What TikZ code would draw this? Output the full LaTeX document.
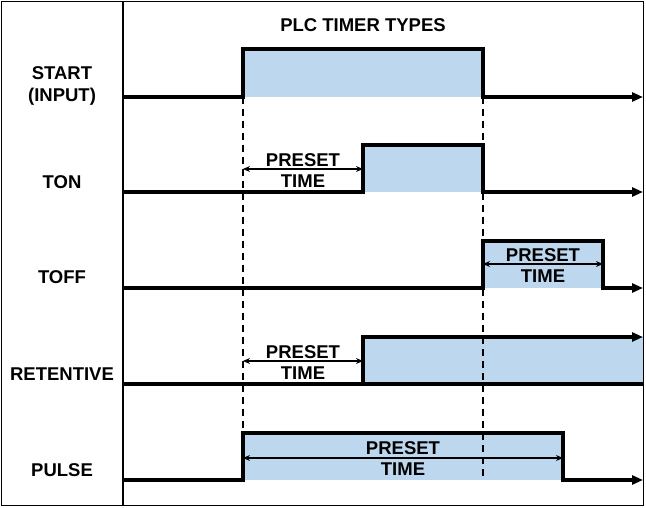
\documentclass[tikz,border=0pt]{standalone}
\usepackage{fontspec}
\setmainfont{Liberation Sans}
\usetikzlibrary{arrows.meta}
\definecolor{pulsefill}{RGB}{189,215,238}
\tikzset{
  sig/.style={line width=3.3pt, line join=miter},
  sigend/.style={sig, -{Triangle[length=11pt,width=9pt]}},
  guide/.style={line width=1.5pt, dash pattern=on 7pt off 5pt},
  preset/.style={line width=1.4pt, {Stealth[length=7pt,width=6pt]}-{Stealth[length=7pt,width=6pt]}},
  lbl/.style={font=\fontsize{18.5}{22}\selectfont\bfseries, align=center, inner sep=0pt},
  ptxt/.style={font=\fontsize{18.5}{21}\selectfont\bfseries, align=center, inner sep=0pt},
  frame/.style={line width=1.4pt},
}
\begin{document}
\begin{tikzpicture}[x=1pt,y=-1pt]
\useasboundingbox (0,0) rectangle (646,508);
% fills
\fill[pulsefill] (243,49) rectangle (483,97);
\fill[pulsefill] (363,145) rectangle (483,192);
\fill[pulsefill] (483,241) rectangle (603,288);
\fill[pulsefill] (363,337) rectangle (643,384);
\fill[pulsefill] (243,433) rectangle (563,480);
% frame
\draw[frame] (1.5,1.5) rectangle (643.5,505.5);
\draw[frame] (123,1.5) -- (123,505.5);
% guide coordinates
\coordinate (g1t) at (243,97);
\coordinate (g1b) at (243,480);
\coordinate (g2t) at (483,97);
\coordinate (g2b) at (483,480);
\draw[guide] (g1t) -- (g1b);
\draw[guide] (g2t) -- (g2b);
% START
\draw[sigend] (123,97) -- (243,97) -- (243,49) -- (483,49) -- (483,97) -- (643,97);
% TON
\draw[sigend] (123,192) -- (363,192) -- (363,145) -- (483,145) -- (483,192) -- (643,192);
% TOFF
\draw[sigend] (123,288) -- (483,288) -- (483,241) -- (603,241) -- (603,288) -- (643,288);
% RETENTIVE
\draw[sig] (123,384) -- (643,384);
\draw[sigend] (363,384) -- (363,337) -- (643,337);
% PULSE
\draw[sigend] (123,480) -- (243,480) -- (243,433) -- (563,433) -- (563,480) -- (643,480);
% preset arrows
\coordinate (a1l) at (243,169); \coordinate (a1r) at (363,169);
\coordinate (a2l) at (483,264); \coordinate (a2r) at (603,264);
\coordinate (a3l) at (243,361); \coordinate (a3r) at (363,361);
\coordinate (a4l) at (243,458); \coordinate (a4r) at (563,458);
\draw[preset] (a1l) -- (a1r);
\draw[preset] (a2l) -- (a2r);
\draw[preset] (a3l) -- (a3r);
\draw[preset] (a4l) -- (a4r);
\node[ptxt] (p1) at (303,171) {PRESET\\TIME};
\node[ptxt] (p2) at (543,266) {PRESET\\TIME};
\node[ptxt] (p3) at (303,363) {PRESET\\TIME};
\node[ptxt] (p4) at (403,459) {PRESET\\TIME};
% labels
\node[lbl] (title) at (363,25) {PLC TIMER TYPES};
\node[lbl] (start) at (62,86) {START\\(INPUT)};
\node[lbl] (ton) at (62,182) {TON};
\node[lbl] (toff) at (62,277) {TOFF};
\node[lbl] (ret) at (62,374) {RETENTIVE};
\node[lbl] (pulse) at (62,470) {PULSE};
\end{tikzpicture}
\end{document}
